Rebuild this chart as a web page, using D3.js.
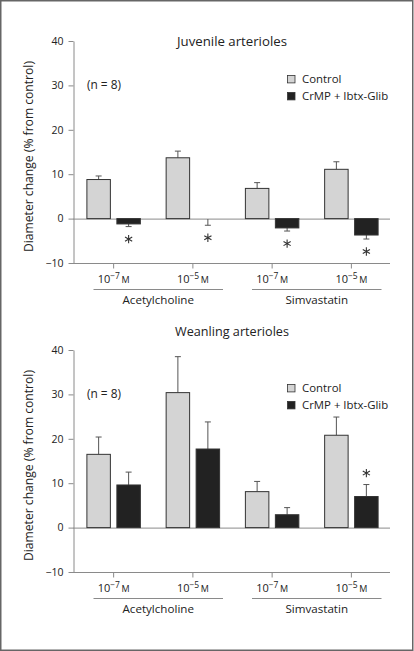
<!DOCTYPE html>
<html>
<head>
<meta charset="utf-8">
<script src="https://cdn.jsdelivr.net/npm/d3@7"></script>
<style>
html,body{margin:0;padding:0;background:#fff;}
svg{display:block;font-family:"Open Sans",sans-serif;}
</style>
</head>
<body>
<svg id="chart" width="414" height="651"></svg>
<script>
// ---- data ----
const doses = ["−7", "−5", "−7", "−5"];
const drugs = ["Acetylcholine", "Simvastatin"];
const seriesNames = ["Control", "CrMP + Ibtx-Glib"];
const yTicks = [-10, 0, 10, 20, 30, 40];

const juvControl = [8.8, 13.7, 6.8, 11.1];
const juvControlErr = [0.8, 1.5, 1.3, 1.7];
const juvTreated = [-1.2, -0.1, -2.1, -3.7];
const juvTreatedErr = [0.6, 1.4, 0.7, 0.9];
const juvSig = [true, true, true, true];

const weanControl = [16.5, 30.4, 8.1, 20.8];
const weanControlErr = [3.9, 8.1, 2.3, 4.1];
const weanTreated = [9.6, 17.7, 2.9, 7.0];
const weanTreatedErr = [2.9, 6.1, 1.6, 2.7];
const weanSig = [false, false, false, true];

const panels = [
  {title: "Juvenile arterioles", ctrl: juvControl, ctrlErr: juvControlErr, trt: juvTreated, trtErr: juvTreatedErr, sig: juvSig, top: 41, titleY: 46},
  {title: "Weanling arterioles", ctrl: weanControl, ctrlErr: weanControlErr, trt: weanTreated, trtErr: weanTreatedErr, sig: weanSig, top: 350, titleY: 336}
];

const svg = d3.select("#chart");
const txt = "#222";
const axisCol = "#8a8a8a";
const fills = ["#d4d4d4", "#222"];

// scale a text's font size so its width matches a target
function fit(sel, target) {
  const n = sel.node();
  const w = n.getComputedTextLength();
  const fs = parseFloat(sel.attr("font-size"));
  if (w > 0) sel.attr("font-size", (fs * target / w).toFixed(2));
  return sel;
}

// frame
svg.append("rect").attr("x", 0.75).attr("y", 0.75).attr("width", 412).attr("height", 649.5)
  .attr("fill", "none").attr("stroke", "#666").attr("stroke-width", 1.5);

const x0 = d3.scaleBand().domain(d3.range(4)).range([74, 391]).paddingInner(0).paddingOuter(0);
const x1 = d3.scaleBand().domain([0, 1]).range([0, x0.bandwidth()]).paddingInner(0.217).paddingOuter(0.43);
const star = d3.symbol().type(d3.symbolAsterisk).size(48);

panels.forEach(p => {
  const y = d3.scaleLinear().domain([-10, 40]).range([p.top + 222, p.top]);
  const g = svg.append("g");

  // title
  fit(g.append("text").attr("x", 232).attr("y", p.titleY).attr("text-anchor", "middle")
    .attr("font-size", 12.5).attr("fill", txt).text(p.title), p.title.startsWith("J") ? 110 : 114);

  // y axis
  const ya = g.append("g").attr("transform", `translate(73.5,0)`)
    .call(d3.axisLeft(y).tickValues(yTicks).tickSize(5).tickPadding(5).tickSizeOuter(0));
  ya.selectAll("path,line").attr("stroke", axisCol);
  ya.selectAll("text").attr("font-size", 10.5).attr("fill", txt).attr("font-family", "Open Sans");

  // x axis
  const xa = g.append("g").attr("transform", `translate(0,${y(-10) + 0.5})`)
    .call(d3.axisBottom(x0).tickSize(5).tickSizeOuter(0).tickFormat(""));
  xa.select("path").attr("d", `M73,0H390`);
  xa.selectAll("path,line").attr("stroke", axisCol);

  // zero line
  g.append("line").attr("x1", 73).attr("x2", 390).attr("y1", y(0) + 0.5).attr("y2", y(0) + 0.5)
    .attr("stroke", axisCol);

  // y label
  fit(g.append("text").attr("transform", `translate(33,${(y(40) + y(-10)) / 2 + 4.5}) rotate(-90)`)
    .attr("text-anchor", "middle").attr("font-size", 10.8).attr("fill", txt)
    .text("Diameter change (% from control)"), 191);

  // n = 8
  fit(g.append("text").attr("x", 87).attr("y", y(30) + 4).attr("font-size", 10.5).attr("fill", txt).text("(n = 8)"), 34);

  // legend
  seriesNames.forEach((s, i) => {
    const ly = y(30) - 10 + i * 17;
    g.append("rect").attr("x", 287.5).attr("y", ly).attr("width", 7.5).attr("height", 7.5)
      .attr("fill", fills[i]).attr("stroke", "#333").attr("stroke-width", 0.8);
    const t = g.append("text").attr("x", 302).attr("y", ly + 7.6).attr("font-size", 11).attr("fill", txt).text(s);
    if (i === 0) fit(t, 39.5);
  });
  const legTexts = g.selectAll("text").filter(function () { return seriesNames.includes(this.textContent); });
  const legFs = legTexts.filter(function () { return this.textContent === seriesNames[0]; }).attr("font-size");
  legTexts.attr("font-size", legFs);

  // bars
  const series = [
    {vals: p.ctrl, errs: p.ctrlErr, k: 0},
    {vals: p.trt, errs: p.trtErr, k: 1}
  ];
  series.forEach(s => {
    s.vals.forEach((v, i) => {
      const bx = x0(i) + x1(s.k);
      const bw = x1.bandwidth();
      const cx = bx + bw / 2;
      const e = v >= 0 ? v + s.errs[i] : v - s.errs[i];
      // error bar
      g.append("line").attr("x1", cx).attr("x2", cx).attr("y1", y(v)).attr("y2", y(e))
        .attr("stroke", "#555").attr("stroke-width", 1);
      g.append("line").attr("x1", cx - 3).attr("x2", cx + 3).attr("y1", y(e)).attr("y2", y(e))
        .attr("stroke", "#555").attr("stroke-width", 1);
      if (Math.abs(v) > 0.2) {
        g.append("rect").attr("x", bx).attr("width", bw)
          .attr("y", Math.min(y(v), y(0))).attr("height", Math.abs(y(v) - y(0)))
          .attr("fill", fills[s.k]).attr("stroke", "#333").attr("stroke-width", 1);
      }
      if (s.k === 1 && p.sig[i]) {
        const ay = v >= 0 ? y(e) - 11.5 : y(e) + 12.5;
        g.append("path").attr("d", star()).attr("transform", `translate(${cx},${ay})`)
          .attr("fill", "none").attr("stroke", "#333").attr("stroke-width", 1.1);
      }
    });
  });

  // x tick labels
  doses.forEach((d, i) => {
    const t = g.append("text").attr("x", x0(i) + x0.bandwidth() / 2).attr("y", y(-10) + 20)
      .attr("text-anchor", "middle").attr("font-size", 11).attr("fill", txt);
    t.append("tspan").text("10");
    t.append("tspan").attr("dy", -4.5).attr("font-size", 8.5).text(d);
    t.append("tspan").attr("dy", 4.5).attr("font-size", 9).text("\u2009M");
  });

  // group lines + labels
  drugs.forEach((d, j) => {
    const xa0 = x0(2 * j) + 19.5, xa1 = x0(2 * j + 1) + x0.bandwidth() - 9.5;
    g.append("line").attr("x1", xa0).attr("x2", xa1).attr("y1", y(-10) + 26.5).attr("y2", y(-10) + 26.5)
      .attr("stroke", axisCol);
    const t = g.append("text").attr("x", (xa0 + xa1) / 2).attr("y", y(-10) + 41).attr("text-anchor", "middle")
      .attr("font-size", 11).attr("fill", txt).text(d);
    if (j === 0) fit(t, 71.5);
  });
  const grpFs = g.selectAll("text").filter(function () { return this.textContent === drugs[0]; }).attr("font-size");
  g.selectAll("text").filter(function () { return drugs.includes(this.textContent); }).attr("font-size", grpFs);
});
</script>
</body>
</html>
